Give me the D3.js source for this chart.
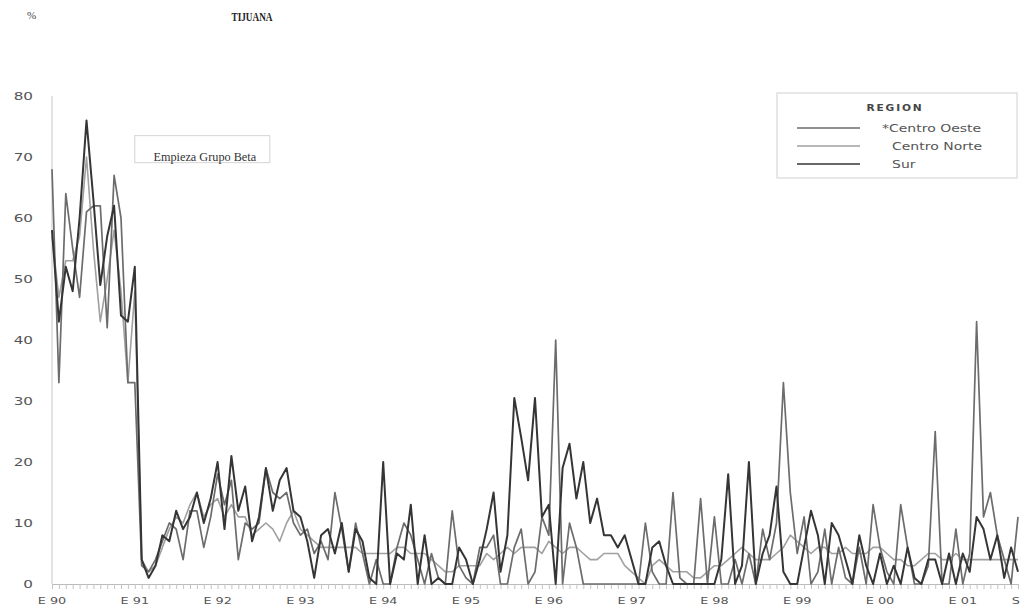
<!DOCTYPE html>
<html lang="es">
<head>
<meta charset="utf-8">
<style type="text/css">
body { margin: 0; background: #fff; }
.line { fill: none; stroke-linejoin: round; }
</style>
</head>
<body>
	<svg width="1021" height="607"></svg>

	<script src="https://cdn.jsdelivr.net/npm/d3@7/dist/d3.min.js"></script>
	<script type="text/javascript">
    // monthly series, Jan 1990 .. Sep 2001 (%)
    var sur = [
        58, 43, 52, 48, 60, 76, 63, 49, 57, 62, 44, 43,
        52, 4, 1, 3, 8, 7, 12, 9, 11, 15, 10, 14,
        20, 9, 21, 12, 16, 7, 11, 19, 12, 17, 19, 12,
        11, 7, 1, 8, 9, 5, 10, 2, 9, 7, 1, 0,
        20, 0, 5, 4, 13, 0, 8, 0, 1, 0, 0, 6,
        4, 0, 4, 9, 15, 2, 8, 30.5, 24, 17, 30.5, 11,
        13, 0, 19, 23, 14, 20, 10, 14, 8, 8, 6, 8,
        4, 0, 0, 6, 7, 3, 0, 0, 0, 0, 0, 0,
        0, 4, 18, 0, 3, 20, 0, 5, 8, 16, 2, 0,
        0, 6, 12, 8, 0, 10, 8, 4, 0, 8, 3, 0,
        5, 0, 3, 0, 6, 1, 0, 4, 4, 0, 5, 0,
        5, 2, 11, 9, 4, 8, 1, 6, 2
    ];
    var centroOeste = [
        68, 33, 64, 55, 47, 61, 62, 62, 42, 67, 60, 33,
        33, 3, 2, 4, 7, 10, 9, 4, 12, 12, 6, 11,
        18, 13, 17, 4, 10, 9, 10, 19, 15, 14, 15, 10,
        8, 9, 5, 7, 4, 15, 9, 2, 10, 5, 0, 4,
        0, 0, 6, 10, 8, 4, 0, 5, 1, 0, 12, 3,
        1, 0, 6, 6, 8, 0, 0, 6, 9, 0, 2, 11,
        8, 40, 0, 10, 6, 0, 0, 0, 0, 0, 0, 0,
        0, 0, 10, 2, 0, 0, 15, 1, 0, 0, 14, 0,
        11, 0, 0, 4, 0, 5, 0, 9, 4, 10, 33, 15,
        5, 11, 0, 2, 9, 0, 6, 1, 0, 6, 0, 13,
        6, 2, 0, 13, 6, 0, 0, 3, 25, 0, 0, 9,
        0, 5, 43, 11, 15, 8, 4, 0, 11
    ];
    var centroNorte = [
        57, 47, 53, 53, 57, 70, 55, 43, 50, 58, 48, 33,
        48, 4, 2, 3, 6, 9, 11, 10, 13, 15, 11, 13,
        14, 11, 13, 11, 11, 8, 9, 10, 9, 7, 10, 12,
        9, 8, 7, 6, 6, 6, 6, 6, 6, 5, 5, 5,
        5, 5, 6, 6, 5, 5, 5, 4, 3, 2, 2, 3,
        3, 3, 3, 5, 4, 5, 6, 5, 6, 6, 6, 5,
        7, 6, 5, 6, 6, 5, 4, 4, 5, 5, 5, 3,
        2, 1, 0, 3, 4, 3, 2, 2, 2, 1, 1, 2,
        3, 3, 4, 5, 6, 5, 4, 4, 4, 5, 6, 8,
        7, 6, 5, 6, 6, 5, 5, 6, 5, 5, 5, 6,
        6, 5, 4, 4, 3, 3, 4, 5, 5, 4, 4, 5,
        4, 4, 4, 4, 4, 4, 4, 4, 4
    ];

    var seriesNames = ["*Centro Oeste", "Centro Norte", "Sur"];
    var seriesColors = ["#6c6c6c", "#a0a0a0", "#353535"];
    var seriesWidths = [1.7, 1.6, 2];

    var yTicks = [0, 10, 20, 30, 40, 50, 60, 70, 80];
    var xTickMonths = [0, 12, 24, 36, 48, 60, 72, 84, 96, 108, 120, 132, 140];
    var xTickLabels = ["E 90", "E 91", "E 92", "E 93", "E 94", "E 95", "E 96",
                       "E 97", "E 98", "E 99", "E 00", "E 01", "S"];

    var svg = d3.select("svg"),
        width = +svg.attr("width"),
        height = +svg.attr("height");

    var margin = {left: 52, top: 96, bottom: 23};

    var x = d3.scaleLinear()
        .domain([0, 140])
        .range([margin.left, 1018]);

    var y = d3.scaleLinear()
        .domain([0, 80])
        .range([height - margin.bottom, margin.top]);

    svg.append("rect")
        .attr("width", width)
        .attr("height", height)
        .attr("fill", "#fff");

    // heading
    svg.append("text")
        .attr("x", 27)
        .attr("y", 19)
        .attr("font-family", "Liberation Serif, serif")
        .attr("font-size", 11)
        .attr("fill", "#444")
        .text("%");

    svg.append("text")
        .attr("text-anchor", "middle")
        .attr("font-family", "Liberation Serif, serif")
        .attr("font-weight", "bold")
        .attr("font-size", 12.5)
        .attr("transform", "translate(252,21) scale(0.74,1)")
        .attr("fill", "#222")
        .text("TIJUANA");

    // y axis
    svg.append("g")
        .selectAll("text")
        .data(yTicks)
        .enter()
        .append("text")
        .attr("text-anchor", "end")
        .attr("dy", "0.35em")
        .attr("transform", function (d) {return "translate(33," + y(d) + ") scale(1.45,1)";})
        .attr("font-family", "DejaVu Sans, sans-serif")
        .attr("font-size", 10.5)
        .attr("fill", "#555")
        .text(function (d) {return d;});

    svg.append("line")
        .attr("x1", margin.left).attr("x2", margin.left)
        .attr("y1", y(80)).attr("y2", y(0))
        .attr("stroke", "#c8c8c8")
        .attr("stroke-width", 1);

    // x axis: monthly minor ticks + yearly labels
    var months = d3.range(0, 142);
    var xAxis = svg.append("g")
        .attr("transform", "translate(0," + y(0) + ")")
        .call(d3.axisBottom(x).tickValues(months).tickSize(5).tickFormat(""));
    xAxis.select(".domain").attr("stroke", "#bbb");
    xAxis.selectAll(".tick line").attr("stroke", "#c4c4c4");

    svg.append("g")
        .selectAll("text")
        .data(xTickMonths)
        .enter()
        .append("text")
        .attr("text-anchor", function (d, i) {return i == xTickMonths.length - 1 ? "end" : "middle";})
        .attr("transform", function (d, i) {
            var px = i == xTickMonths.length - 1 ? width - 1 : x(d);
            return "translate(" + px + "," + (y(0) + 20) + ") scale(1.35,1)";
        })
        .attr("font-family", "DejaVu Sans, sans-serif")
        .attr("font-size", 9.5)
        .attr("fill", "#555")
        .text(function (d, i) {return xTickLabels[i];});

    // lines
    var line = d3.line()
        .x(function (d, i) {return x(i);})
        .y(function (d) {return y(d);});

    var allSeries = [centroNorte, centroOeste, sur];
    var order = [1, 0, 2];
    allSeries.forEach(function (s, k) {
        var idx = order[k];
        svg.append("path")
            .datum(s)
            .attr("class", "line")
            .attr("stroke", seriesColors[idx])
            .attr("stroke-width", seriesWidths[idx])
            .attr("d", line);
    });

    // annotation
    var ann = svg.append("g");
    ann.append("rect")
        .attr("x", x(12))
        .attr("y", y(73.5))
        .attr("width", 135)
        .attr("height", 27)
        .attr("fill", "#fff")
        .attr("stroke", "#d4d4d4");
    ann.append("text")
        .attr("text-anchor", "middle")
        .attr("font-family", "Liberation Serif, serif")
        .attr("font-size", 12.5)
        .attr("fill", "#333")
        .attr("transform", "translate(" + (x(12) + 70) + "," + y(69.4) + ") scale(0.98,1)")
        .text("Empieza Grupo Beta");

    // legend
    var legend = svg.append("g").attr("transform", "translate(777,93)");
    legend.append("rect")
        .attr("width", 240)
        .attr("height", 85)
        .attr("fill", "#fff")
        .attr("stroke", "#d0d0d0");
    legend.append("text")
        .attr("text-anchor", "middle")
        .attr("transform", "translate(118,18) scale(1.25,1)")
        .attr("font-family", "DejaVu Sans, sans-serif")
        .attr("font-weight", "bold")
        .attr("font-size", 8.5)
        .attr("letter-spacing", 1.5)
        .attr("fill", "#444")
        .text("REGION");

    var items = legend.selectAll(".item")
        .data(seriesNames)
        .enter()
        .append("g")
        .attr("class", "item")
        .attr("transform", function (d, i) {return "translate(0," + (35 + i * 18) + ")";});

    items.append("line")
        .attr("x1", 20).attr("x2", 83)
        .attr("stroke", function (d, i) {return seriesColors[i];})
        .attr("stroke-width", 1.3);

    items.append("text")
        .attr("dy", "0.35em")
        .attr("transform", function (d, i) {return "translate(" + (i == 0 ? 105 : 115) + ",0) scale(1.4,1)";})
        .attr("font-family", "DejaVu Sans, sans-serif")
        .attr("font-size", 10)
        .attr("fill", "#555")
        .text(function (d) {return d;});
	</script>
</body>
</html>
